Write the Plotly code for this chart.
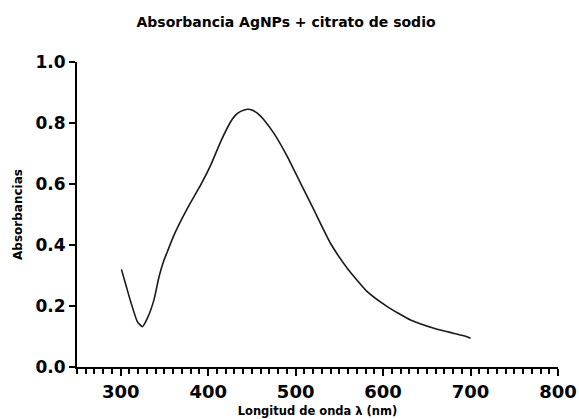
import plotly.graph_objects as go

wavelength = [300.8, 306, 311.4, 319, 324.8, 330.5, 338, 343.8, 349.5, 353.3, 361, 376.2, 391.4,
              402.9, 414.3, 425.7, 431, 437.1, 444.8, 450, 456.2, 465, 475.2, 490.5, 505.7, 520.9,
              540, 559, 581.9, 604.8, 631.4, 658.1, 688.6, 695, 700]
absorbance = [0.320, 0.268, 0.214, 0.149, 0.132, 0.160, 0.220, 0.296, 0.351, 0.378, 0.433, 0.520, 0.597,
              0.662, 0.739, 0.804, 0.825, 0.838, 0.845, 0.843, 0.832, 0.806, 0.766, 0.690, 0.602, 0.515,
              0.405, 0.324, 0.247, 0.198, 0.154, 0.127, 0.105, 0.100, 0.094]

title_text = "Absorbancia AgNPs + citrato de sodio"
x_title = "Longitud de onda λ (nm)"
y_title = "Absorbancias"
x_ticks = [300, 400, 500, 600, 700, 800]
y_ticks = [0.0, 0.2, 0.4, 0.6, 0.8, 1.0]

fig = go.Figure()
fig.add_trace(go.Scatter(x=wavelength, y=absorbance, mode="lines",
                         line=dict(color="#1a1a1a", width=1.6, shape="spline", smoothing=0.5),
                         showlegend=False))

font_family = "DejaVu Sans, Liberation Sans, Arial, sans-serif"

fig.update_layout(
    width=579, height=419,
    margin=dict(l=77, r=21, t=62, b=52),
    paper_bgcolor="white", plot_bgcolor="white",
    font=dict(family=font_family, color="black"),
    title=dict(text="<b>" + title_text + "</b>", x=0.494, xanchor="center",
               y=1 - 22 / 419, yanchor="middle", font=dict(size=14, color="black")),
)

fig.update_xaxes(
    range=[250, 800], tickvals=x_ticks, ticktext=[str(v) for v in x_ticks],
    showgrid=False, zeroline=False, showline=True, linecolor="black", linewidth=2,
    ticks="outside", ticklen=7, tickwidth=2, tickcolor="black",
    tickfont=dict(size=18, family=font_family, weight="bold"),
    minor=dict(dtick=10, tick0=250, ticks="outside", ticklen=5, tickwidth=1.5, tickcolor="black"),
    title=dict(text="<b>" + x_title + "</b>", font=dict(size=11.5), standoff=6),
    automargin=False,
)
fig.update_yaxes(
    range=[0, 1.0], tickvals=y_ticks, ticktext=["%.1f" % v for v in y_ticks],
    showgrid=False, zeroline=False, showline=True, linecolor="black", linewidth=2,
    ticks="outside", ticklen=6, tickwidth=2, tickcolor="black",
    tickfont=dict(size=17, family=font_family, weight="bold"),
    title=dict(text="<b>" + y_title + "</b>", font=dict(size=12), standoff=10),
    automargin=False,
)

fig.write_html("out.html")
